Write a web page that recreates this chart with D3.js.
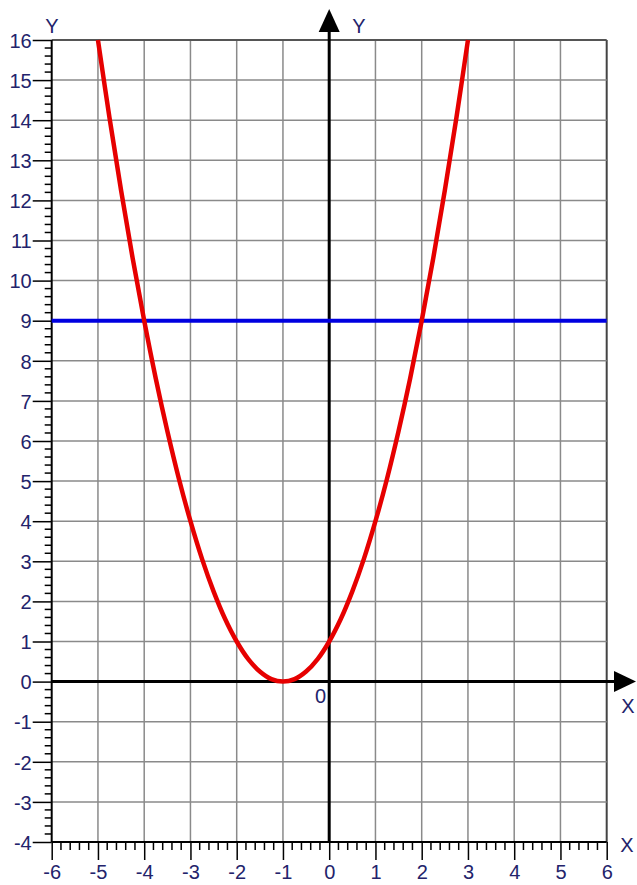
<!DOCTYPE html>
<html><head><meta charset="utf-8">
<script src="https://cdn.jsdelivr.net/npm/d3@7"></script>
<style>html,body{margin:0;padding:0;background:#fff;}svg{display:block;}</style>
</head><body>
<script>
// Data
const xTicks = [-6,-5,-4,-3,-2,-1,0,1,2,3,4,5,6];
const yTicks = [-4,-3,-2,-1,0,1,2,3,4,5,6,7,8,9,10,11,12,13,14,15,16];
const curveX = [-5,-4.75,-4.5,-4.25,-4,-3.75,-3.5,-3.25,-3,-2.75,-2.5,-2.25,-2,-1.75,-1.5,-1.25,-1,-0.75,-0.5,-0.25,0,0.25,0.5,0.75,1,1.25,1.5,1.75,2,2.25,2.5,2.75,3];
const curveY = [16,14.06,12.25,10.56,9,7.56,6.25,5.06,4,3.06,2.25,1.56,1,0.56,0.25,0.06,0,0.06,0.25,0.56,1,1.56,2.25,3.06,4,5.06,6.25,7.56,9,10.56,12.25,14.06,16];
const lineY = [9];

const W = 637, H = 885;
const svg = d3.select("body").append("svg").attr("width", W).attr("height", H);
const x = d3.scaleLinear().domain([-6, 6]).range([51.7, 606.7]);
const y = d3.scaleLinear().domain([-4, 16]).range([842, 40]);
const labelColor = "#23236b";
const font = "'Liberation Sans', Arial, sans-serif";
const fmt = d => String(d);

// grid
svg.append("g").selectAll("line").data(xTicks.filter(d => d !== -6 && d !== 0)).join("line")
  .attr("x1", d => x(d)).attr("x2", d => x(d)).attr("y1", y(16)).attr("y2", y(-4))
  .attr("stroke", d => d === 6 ? "#444" : "#8a8a8a").attr("stroke-width", d => d === 6 ? 2 : 1.5);
svg.append("g").selectAll("line").data(yTicks.filter(d => d !== -4 && d !== 0)).join("line")
  .attr("x1", x(-6)).attr("x2", x(6)).attr("y1", d => y(d)).attr("y2", d => y(d))
  .attr("stroke", d => d === 16 ? "#555" : "#8a8a8a").attr("stroke-width", d => d === 16 ? 2 : 1.5);

// left and bottom frame axes with ticks
const leftAxis = d3.axisLeft(y).tickValues(yTicks).tickSize(19).tickPadding(1).tickFormat(fmt);
const gL = svg.append("g").attr("transform", `translate(${x(-6)},0)`).call(leftAxis);
gL.select(".domain").attr("stroke", "#000").attr("stroke-width", 2).attr("d", `M0,${y(16)}V${y(-4)}`);
gL.selectAll(".tick line").attr("stroke", "#000").attr("stroke-width", 1.5);
gL.selectAll(".tick text").attr("fill", labelColor).style("font-family", font).style("font-size", "20px").attr("dy", "0.36em");

const minorY = d3.range(-4, 16, 0.2).filter(v => Math.abs(v - Math.round(v)) > 1e-6);
svg.append("g").selectAll("line").data(minorY).join("line")
  .attr("x1", x(-6) - 7).attr("x2", x(-6)).attr("y1", d => y(d)).attr("y2", d => y(d))
  .attr("stroke", "#000").attr("stroke-width", 1.5);

const bottomAxis = d3.axisBottom(x).tickValues(xTicks).tickSize(18).tickPadding(5).tickFormat(fmt);
const gB = svg.append("g").attr("transform", `translate(0,${y(-4)})`).call(bottomAxis);
gB.select(".domain").attr("stroke", "#000").attr("stroke-width", 2).attr("d", `M${x(-6)},0H${x(6)}`);
gB.selectAll(".tick line").attr("stroke", "#000").attr("stroke-width", 1.5);
gB.selectAll(".tick text").attr("fill", labelColor).style("font-family", font).style("font-size", "20px");

const minorX = d3.range(-6, 6, 0.2).filter(v => Math.abs(v - Math.round(v)) > 1e-6);
svg.append("g").selectAll("line").data(minorX).join("line")
  .attr("x1", d => x(d)).attr("x2", d => x(d)).attr("y1", y(-4)).attr("y2", y(-4) + 8)
  .attr("stroke", "#000").attr("stroke-width", 1.5);

// main axes
svg.append("line").attr("x1", x(0)).attr("x2", x(0)).attr("y1", y(-4)).attr("y2", 28)
  .attr("stroke", "#000").attr("stroke-width", 3);
svg.append("line").attr("x1", x(-6)).attr("x2", 618).attr("y1", y(0)).attr("y2", y(0))
  .attr("stroke", "#000").attr("stroke-width", 3);
svg.append("path").attr("d", `M${x(0)},9L${x(0)+10.5},32L${x(0)-10.5},32Z`).attr("fill", "#000");
svg.append("path").attr("d", `M636,${y(0)}L614,${y(0)-10.5}L614,${y(0)+10.5}Z`).attr("fill", "#000");

// axis letters
const txt = (t, px, py, anchor) => svg.append("text").attr("x", px).attr("y", py).text(t)
  .attr("fill", labelColor).attr("text-anchor", anchor || "middle")
  .style("font-family", font).style("font-size", "20px");
txt("Y", 52, 33);
txt("Y", 359, 33);
txt("X", 628, 713);
txt("X", 627, 852);
txt("0", 326, 703, "end");

// series
svg.append("line").attr("x1", x(-6)).attr("x2", x(6)).attr("y1", y(lineY[0])).attr("y2", y(lineY[0]))
  .attr("stroke", "#0000e0").attr("stroke-width", 4);
const pts = curveX.map((v, i) => [v, curveY[i]]);
svg.append("path").datum(pts)
  .attr("d", d3.line().x(d => x(d[0])).y(d => y(d[1])).curve(d3.curveCatmullRom))
  .attr("fill", "none").attr("stroke", "#e60000").attr("stroke-width", 4.5);
</script>
</body></html>
